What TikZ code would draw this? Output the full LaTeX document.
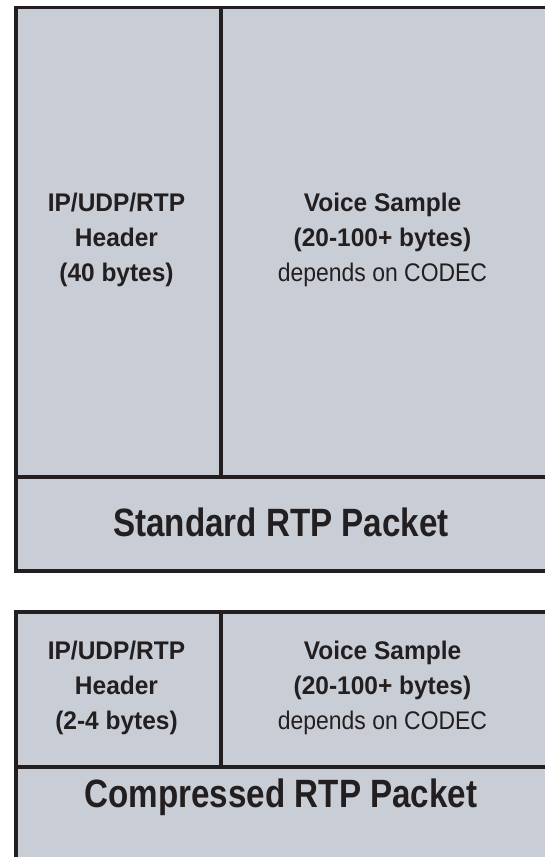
\documentclass[tikz,border=0pt]{standalone}
\usepackage{fontspec}
\setmainfont{Liberation Sans}
\newfontfamily\bigfont[FakeStretch=0.84]{Liberation Sans}
\newfontfamily\smallfont[FakeStretch=0.96]{Liberation Sans}
\newfontfamily\regfont[FakeStretch=0.9]{Liberation Sans}
\definecolor{cellfill}{RGB}{201,206,214}
\definecolor{edgecol}{RGB}{35,31,32}
\definecolor{txtcol}{RGB}{35,31,32}
\begin{document}
\begin{tikzpicture}[x=1pt,y=-1pt,
  cell/.style={draw=edgecol, fill=cellfill, line width=3.5pt, rectangle,
    inner sep=0pt, anchor=north west},
  small/.style={font=\smallfont\fontsize{25.5}{35}\selectfont, text=txtcol,
    align=center, inner sep=0pt},
  big/.style={font=\bigfont\fontsize{39.5}{45}\selectfont\bfseries, text=txtcol,
    inner sep=0pt, anchor=base}]
\useasboundingbox (0,0) rectangle (545,857);
\clip (0,0) rectangle (545,857);
% standard packet
\node[cell, minimum width=205pt, minimum height=469.5pt] (hdrA) at (14,5.5) {};
\node[cell, minimum width=341pt, minimum height=469.5pt] (voiceA) at (219,5.5) {};
\node[cell, minimum width=546pt, minimum height=94pt] (pktA) at (14,475) {};
% compressed packet
\node[cell, minimum width=205pt, minimum height=155pt] (hdrB) at (14,610) {};
\node[cell, minimum width=341pt, minimum height=155pt] (voiceB) at (219,610) {};
\node[cell, minimum width=546pt, minimum height=110pt] (pktB) at (14,765) {};
% texts
\node[small] (tA1) at (116.5,240) {\bfseries IP/UDP/RTP\\\bfseries Header\\\bfseries (40 bytes)};
\node[small] (tA2) at (382.5,240) {\bfseries Voice Sample\\\bfseries (20-100+ bytes)\\\regfont depends on CODEC};
\node[big] (tA3) at (281,536.7) {Standard RTP Packet};
\node[small] (tB1) at (116.5,688) {\bfseries IP/UDP/RTP\\\bfseries Header\\\bfseries (2-4 bytes)};
\node[small] (tB2) at (382.5,688) {\bfseries Voice Sample\\\bfseries (20-100+ bytes)\\\regfont depends on CODEC};
\node[big] (tB3) at (281,807.7) {Compressed RTP Packet};
\end{tikzpicture}
\end{document}
